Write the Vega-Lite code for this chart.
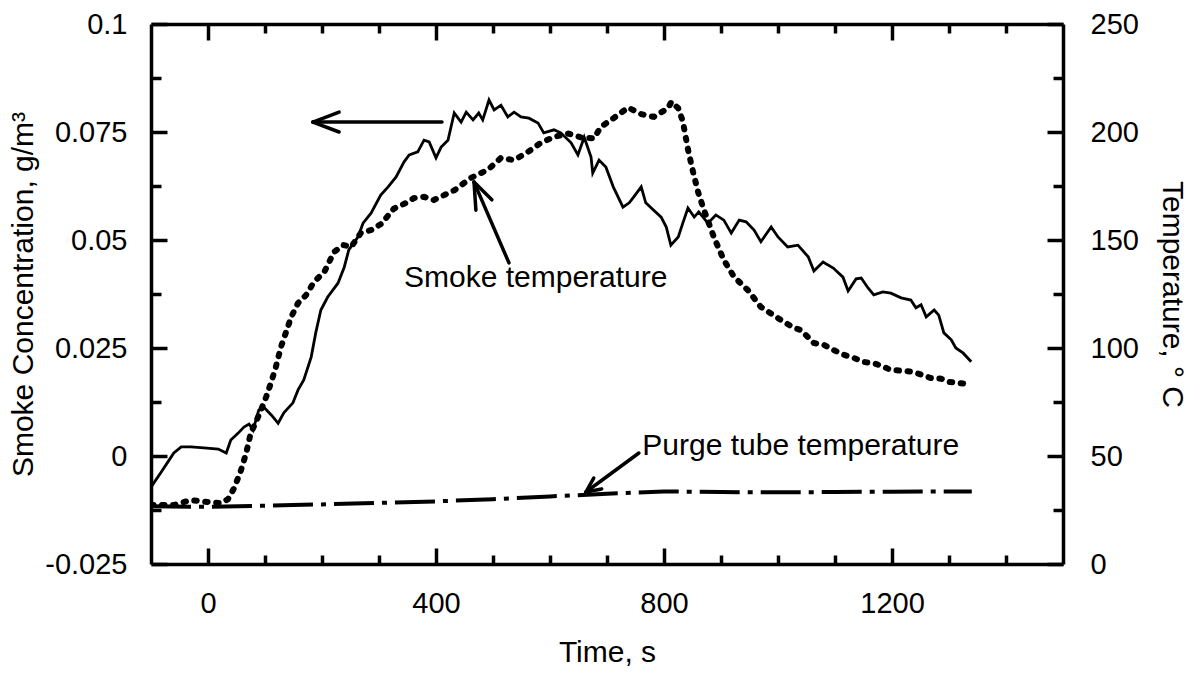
{
  "$schema": "https://vega.github.io/schema/vega-lite/v6.json",
  "width": 912,
  "height": 540,
  "autosize": {"type": "none"},
  "padding": {"left": 151, "top": 24, "right": 132, "bottom": 112},
  "background": "white",
  "config": {
    "view": {"stroke": null},
    "font": "Liberation Sans",
    "axis": {
      "domainColor": "black", "domainWidth": 3.5, "tickColor": "black", "tickWidth": 3.5,
      "labelFont": "Liberation Sans", "labelFontSize": 29, "labelColor": "black",
      "titleFont": "Liberation Sans", "titleFontSize": 30, "titleFontWeight": "normal", "titleColor": "black",
      "grid": false, "labelOverlap": false, "labelFlush": false
    }
  },
  "datasets": {
    "conc": [
      {"t": -100, "c": -0.0072}, {"t": -82, "c": -0.0037}, {"t": -68, "c": -0.0009}, {"t": -60, "c": 0.0007}, {"t": -47, "c": 0.0021},
      {"t": -30, "c": 0.0021}, {"t": -7, "c": 0.0019}, {"t": 18, "c": 0.0016}, {"t": 32, "c": 0.0007}, {"t": 40, "c": 0.0037},
      {"t": 53, "c": 0.0053}, {"t": 63, "c": 0.0067}, {"t": 72, "c": 0.0074}, {"t": 79, "c": 0.006}, {"t": 89, "c": 0.0106},
      {"t": 98, "c": 0.0113}, {"t": 111, "c": 0.0095}, {"t": 123, "c": 0.0076}, {"t": 133, "c": 0.01}, {"t": 149, "c": 0.0123},
      {"t": 158, "c": 0.0153}, {"t": 168, "c": 0.0176}, {"t": 181, "c": 0.0229}, {"t": 189, "c": 0.0285}, {"t": 198, "c": 0.0338},
      {"t": 210, "c": 0.0368}, {"t": 228, "c": 0.04}, {"t": 239, "c": 0.0437}, {"t": 247, "c": 0.0477}, {"t": 263, "c": 0.0507},
      {"t": 272, "c": 0.0539}, {"t": 286, "c": 0.0562}, {"t": 303, "c": 0.0604}, {"t": 316, "c": 0.0623}, {"t": 330, "c": 0.0646},
      {"t": 344, "c": 0.0681}, {"t": 353, "c": 0.0697}, {"t": 368, "c": 0.0704}, {"t": 379, "c": 0.0731}, {"t": 388, "c": 0.0727},
      {"t": 400, "c": 0.069}, {"t": 409, "c": 0.0715}, {"t": 421, "c": 0.0731}, {"t": 432, "c": 0.0794}, {"t": 444, "c": 0.0773},
      {"t": 453, "c": 0.0796}, {"t": 465, "c": 0.0778}, {"t": 475, "c": 0.0794}, {"t": 482, "c": 0.0778}, {"t": 493, "c": 0.0824},
      {"t": 502, "c": 0.0801}, {"t": 514, "c": 0.0812}, {"t": 526, "c": 0.0785}, {"t": 537, "c": 0.0796}, {"t": 549, "c": 0.0785},
      {"t": 563, "c": 0.0782}, {"t": 579, "c": 0.0771}, {"t": 589, "c": 0.0748}, {"t": 607, "c": 0.0755}, {"t": 619, "c": 0.0748},
      {"t": 637, "c": 0.0725}, {"t": 649, "c": 0.0697}, {"t": 660, "c": 0.0738}, {"t": 672, "c": 0.0692}, {"t": 675, "c": 0.0655},
      {"t": 686, "c": 0.0685}, {"t": 698, "c": 0.0669}, {"t": 711, "c": 0.0623}, {"t": 728, "c": 0.0576}, {"t": 739, "c": 0.0586},
      {"t": 747, "c": 0.06}, {"t": 760, "c": 0.0623}, {"t": 768, "c": 0.0586}, {"t": 781, "c": 0.057}, {"t": 795, "c": 0.0553},
      {"t": 804, "c": 0.053}, {"t": 812, "c": 0.0488}, {"t": 825, "c": 0.0507}, {"t": 833, "c": 0.0539}, {"t": 842, "c": 0.0574},
      {"t": 853, "c": 0.0553}, {"t": 861, "c": 0.0565}, {"t": 877, "c": 0.0539}, {"t": 891, "c": 0.0558}, {"t": 905, "c": 0.0546},
      {"t": 918, "c": 0.0516}, {"t": 932, "c": 0.0546}, {"t": 944, "c": 0.0542}, {"t": 958, "c": 0.0523}, {"t": 970, "c": 0.0496},
      {"t": 988, "c": 0.053}, {"t": 1000, "c": 0.0507}, {"t": 1017, "c": 0.0484}, {"t": 1035, "c": 0.0488}, {"t": 1053, "c": 0.0461},
      {"t": 1063, "c": 0.0428}, {"t": 1079, "c": 0.0449}, {"t": 1097, "c": 0.0435}, {"t": 1114, "c": 0.0414}, {"t": 1123, "c": 0.0382},
      {"t": 1137, "c": 0.041}, {"t": 1146, "c": 0.0412}, {"t": 1158, "c": 0.0389}, {"t": 1168, "c": 0.0373}, {"t": 1184, "c": 0.038},
      {"t": 1198, "c": 0.0377}, {"t": 1216, "c": 0.0366}, {"t": 1233, "c": 0.0361}, {"t": 1242, "c": 0.0343}, {"t": 1251, "c": 0.035},
      {"t": 1260, "c": 0.0322}, {"t": 1274, "c": 0.0338}, {"t": 1282, "c": 0.0326}, {"t": 1291, "c": 0.0285}, {"t": 1304, "c": 0.0269},
      {"t": 1312, "c": 0.025}, {"t": 1325, "c": 0.0238}, {"t": 1339, "c": 0.0218}
    ],
    "smoke": [
      {"t": -100, "T": 27.3}, {"t": -60, "T": 27.3}, {"t": -30, "T": 29.6}, {"t": 0, "T": 28.7}, {"t": 23, "T": 28.2},
      {"t": 35, "T": 30}, {"t": 46, "T": 35.2}, {"t": 58, "T": 43.5}, {"t": 67, "T": 51.4}, {"t": 75, "T": 60.6},
      {"t": 84, "T": 65.7}, {"t": 93, "T": 71.3}, {"t": 102, "T": 77.3}, {"t": 111, "T": 84.3}, {"t": 119, "T": 91.2},
      {"t": 128, "T": 100.5}, {"t": 137, "T": 107.4}, {"t": 146, "T": 114.4}, {"t": 158, "T": 120.8}, {"t": 172, "T": 124.5},
      {"t": 186, "T": 130.6}, {"t": 204, "T": 135.2}, {"t": 221, "T": 144.4}, {"t": 237, "T": 147.7}, {"t": 251, "T": 146.8},
      {"t": 268, "T": 153.2}, {"t": 286, "T": 154.6}, {"t": 304, "T": 157.5}, {"t": 326, "T": 164.5}, {"t": 351, "T": 167.6},
      {"t": 361, "T": 169.4}, {"t": 379, "T": 170}, {"t": 396, "T": 168.5}, {"t": 432, "T": 173}, {"t": 461, "T": 178.7},
      {"t": 491, "T": 182.5}, {"t": 514, "T": 188}, {"t": 537, "T": 187}, {"t": 561, "T": 190.7}, {"t": 584, "T": 195},
      {"t": 607, "T": 197.7}, {"t": 632, "T": 199.3}, {"t": 654, "T": 197.5}, {"t": 677, "T": 197}, {"t": 689, "T": 202.3},
      {"t": 712, "T": 206.5}, {"t": 737, "T": 211.3}, {"t": 760, "T": 208.3}, {"t": 782, "T": 207}, {"t": 807, "T": 211},
      {"t": 813, "T": 214}, {"t": 825, "T": 211}, {"t": 833, "T": 205}, {"t": 842, "T": 192}, {"t": 851, "T": 181.5},
      {"t": 860, "T": 172}, {"t": 870, "T": 164}, {"t": 888, "T": 151}, {"t": 905, "T": 140.7}, {"t": 923, "T": 132.9},
      {"t": 947, "T": 126.8}, {"t": 970, "T": 119}, {"t": 1005, "T": 113}, {"t": 1028, "T": 109.3}, {"t": 1040, "T": 108.3},
      {"t": 1063, "T": 102.3}, {"t": 1081, "T": 101.4}, {"t": 1098, "T": 99}, {"t": 1116, "T": 96.8}, {"t": 1133, "T": 95.4},
      {"t": 1151, "T": 93.5}, {"t": 1168, "T": 93}, {"t": 1186, "T": 91.2}, {"t": 1198, "T": 89.8}, {"t": 1219, "T": 89.5},
      {"t": 1237, "T": 88.9}, {"t": 1254, "T": 87.5}, {"t": 1268, "T": 86.1}, {"t": 1286, "T": 85.8}, {"t": 1300, "T": 84.3},
      {"t": 1318, "T": 83.8}, {"t": 1335, "T": 83.3}
    ],
    "purge": [
      {"t": -100, "T": 26.7}, {"t": 0, "T": 26.5}, {"t": 100, "T": 27}, {"t": 200, "T": 27.6}, {"t": 300, "T": 28.3},
      {"t": 400, "T": 29}, {"t": 500, "T": 30}, {"t": 600, "T": 31.3}, {"t": 700, "T": 32.5}, {"t": 800, "T": 33.6},
      {"t": 900, "T": 33.3}, {"t": 1000, "T": 33.2}, {"t": 1100, "T": 33.3}, {"t": 1200, "T": 33.5}, {"t": 1340, "T": 33.6}
    ],
    "arrows": [
      {"t": 410.5, "c": 0.0773, "t2": 184, "c2": 0.0773},
      {"t": 184, "c": 0.0773, "t2": 230, "c2": 0.0796},
      {"t": 184, "c": 0.0773, "t2": 230, "c2": 0.075},
      {"t": 528, "c": 0.0447, "t2": 466.7, "c2": 0.0634},
      {"t": 466.7, "c": 0.0634, "t2": 470, "c2": 0.0569},
      {"t": 466.7, "c": 0.0634, "t2": 498, "c2": 0.0593},
      {"t": 756, "c": 0.00069, "t2": 663, "c2": -0.00833},
      {"t": 663, "c": -0.00833, "t2": 690.7, "c2": -0.00762},
      {"t": 663, "c": -0.00833, "t2": 676.7, "c2": -0.0051}
    ],
    "notes": [
      {"t": 575, "c": 0.0412, "label": "Smoke temperature"},
      {"t": 1040, "c": 0.0023, "label": "Purge tube temperature"}
    ]
  },
  "layer": [
    {
      "encoding": {
        "x": {
          "field": "t", "type": "quantitative",
          "scale": {"domain": [-100, 1500], "nice": false, "zero": false},
          "axis": {
            "orient": "bottom",
            "values": [0, 100, 200, 300, 400, 500, 600, 700, 800, 900, 1000, 1100, 1200, 1300, 1400],
            "format": "d",
            "labelExpr": "datum.value % 400 === 0 ? datum.label : ''",
            "tickSize": {"condition": {"test": "datum.value % 400 === 0", "value": -16}, "value": -9},
            "labelPadding": 41,
            "title": "Time, s",
            "titlePadding": 12
          }
        },
        "y": {
          "field": "c", "type": "quantitative",
          "scale": {"domain": [-0.025, 0.1], "nice": false, "zero": false},
          "axis": {
            "orient": "left",
            "values": [-0.025, -0.0125, 0, 0.0125, 0.025, 0.0375, 0.05, 0.0625, 0.075, 0.0875, 0.1],
            "labelExpr": "abs(datum.value * 40 - round(datum.value * 40)) < 0.000001 ? '' + datum.value : ''",
            "tickSize": {"condition": {"test": "abs(datum.value * 40 - round(datum.value * 40)) < 0.000001", "value": -16}, "value": -10},
            "labelPadding": 40,
            "title": "Smoke Concentration, g/m³",
            "titlePadding": 6
          }
        }
      },
      "layer": [
        {
          "data": {"name": "conc"},
          "mark": {"type": "line", "color": "black", "strokeWidth": 2.8, "clip": true}
        },
        {
          "data": {"name": "arrows"},
          "mark": {"type": "rule", "color": "black", "strokeWidth": 3.5, "strokeCap": "round"},
          "encoding": {
            "x2": {"field": "t2"},
            "y2": {"field": "c2"}
          }
        },
        {
          "data": {"name": "notes"},
          "mark": {"type": "text", "font": "Liberation Sans", "fontSize": 30, "color": "black", "align": "center", "baseline": "middle"},
          "encoding": {
            "text": {"field": "label"}
          }
        }
      ]
    },
    {
      "encoding": {
        "x": {
          "field": "t", "type": "quantitative",
          "scale": {"domain": [-100, 1500], "nice": false, "zero": false},
          "axis": {
            "orient": "top",
            "values": [0, 100, 200, 300, 400, 500, 600, 700, 800, 900, 1000, 1100, 1200, 1300, 1400],
            "labels": false,
            "tickSize": {"condition": {"test": "datum.value % 400 === 0", "value": -16}, "value": -9},
            "title": null
          }
        },
        "y": {
          "field": "T", "type": "quantitative",
          "scale": {"domain": [0, 250], "nice": false, "zero": false},
          "axis": {
            "orient": "right",
            "values": [0, 25, 50, 75, 100, 125, 150, 175, 200, 225, 250],
            "labelExpr": "datum.value % 50 === 0 ? '' + datum.value : ''",
            "tickSize": {"condition": {"test": "datum.value % 50 === 0", "value": -16}, "value": -10},
            "labelPadding": 43,
            "title": "Temperature, ° C",
            "titlePadding": 18
          }
        }
      },
      "layer": [
        {
          "data": {"name": "smoke"},
          "mark": {"type": "line", "color": "black", "strokeWidth": 6, "strokeCap": "round", "strokeDash": [2.5, 8.5], "clip": true}
        },
        {
          "data": {"name": "purge"},
          "mark": {"type": "line", "color": "black", "strokeWidth": 4, "strokeCap": "butt", "strokeDash": [40, 8, 5, 8], "clip": true}
        }
      ]
    }
  ],
  "resolve": {"scale": {"y": "independent"}}
}
